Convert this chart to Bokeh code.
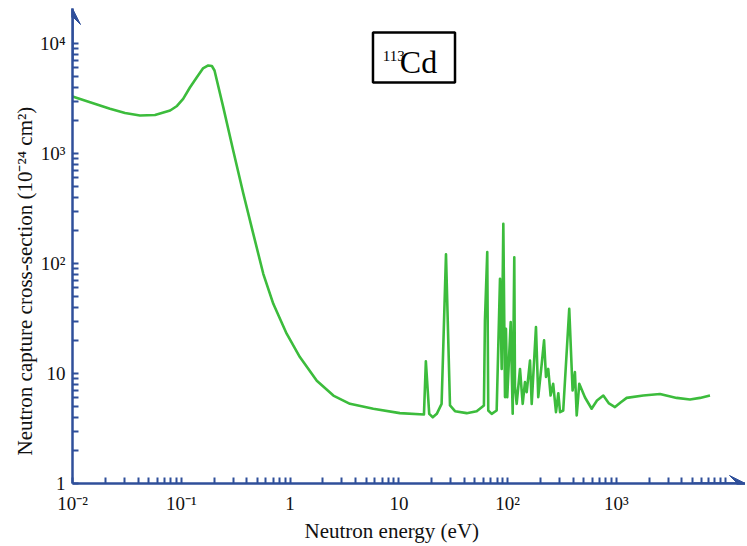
from bokeh.plotting import figure
from bokeh.models import (FixedTicker, Arrow, VeeHead, BoxAnnotation, Label,
                          ColumnDataSource, Range1d, Title)
from bokeh.embed import file_html
from bokeh.resources import INLINE

# ---------------- data ----------------
energy_ev = [0.0100, 0.0145, 0.0221, 0.0304, 0.0417, 0.0573, 0.0790, 0.0913, 0.104, 0.120,
             0.139, 0.158, 0.177, 0.191, 0.202, 0.243, 0.300, 0.372, 0.459, 0.567,
             0.701, 0.930, 1.23, 1.76, 2.50, 3.55, 5.82, 10.2, 17.0, 17.7,
             19.0, 20.5, 22.3, 24.7, 27.1, 29.5, 32.8, 42.0, 51.9, 60.5,
             61.8, 64.9, 66.3, 71.3, 79.2, 85.0, 88.1, 91.2, 94.5, 96.4,
             99.1, 106.6, 111.2, 115.0, 116.7, 121.0, 129.8, 137.4, 144.2, 149.6,
             160.4, 166.3, 182.0, 191.0, 205.5, 216.0, 225.0, 236.0, 248.0, 262.0,
             278.0, 292.0, 303.0, 324.0, 368.0, 395.0, 415.0, 431.0, 455.0, 514.0,
             591.0, 662.0, 757.0, 853.0, 969.0, 1090.0, 1241.0, 1763.0, 2512.0, 3573.0,
             4740.0, 5860.0, 7240.0]
cross_section = [3300, 2925, 2550, 2335, 2215, 2240, 2460, 2704, 3140, 3980,
                 4940, 5930, 6310, 6240, 5680, 2640, 1065, 430, 186, 80.6,
                 43.0, 23.0, 14.1, 8.6, 6.3, 5.3, 4.78, 4.36, 4.24, 12.9,
                 4.30, 4.00, 4.30, 5.30, 121, 5.12, 4.54, 4.36, 4.54, 5.12,
                 30.3, 127, 4.61, 4.30, 4.61, 72.6, 11.0, 230, 6.1, 25.5,
                 6.1, 29.3, 4.3, 114, 7.5, 5.3, 11.0, 5.3, 8.34, 6.76,
                 13.1, 5.3, 26.4, 6.1, 12.2, 20.0, 9.3, 11.0, 6.3, 8.06,
                 4.45, 6.62, 4.45, 4.61, 38.7, 7.0, 10.3, 4.15, 8.06, 6.05,
                 4.78, 5.68, 6.3, 5.34, 4.95, 5.45, 6.0, 6.3, 6.5, 6.0,
                 5.8, 6.0, 6.3]

x_major = [0.01, 0.1, 1, 10, 100, 1000, 10000]
x_tick_labels = ["10\u207b\u00b2", "10\u207b\u00b9", "1", "10", "10\u00b2", "10\u00b3", ""]
y_major = [1, 10, 100, 1000, 10000]
y_tick_labels = ["1", "10", "10\u00b2", "10\u00b3", "10\u2074"]

x_label = "Neutron energy (eV)"
y_label = "Neutron capture cross-section (10\u207b\u00b2\u2074 cm\u00b2)"
isotope_mass = "113"
isotope_symbol = "Cd"

# ---------------- style / layout ----------------
BLUE = "#2f4f9a"
GREEN = "#3cbc3c"
FONT = "Liberation Serif"

x_lo, x_hi = 1e-2, 10 ** 4.186
y_lo, y_hi = 1, 10 ** 4.318

p = figure(x_axis_type="log", y_axis_type="log",
           x_range=Range1d(x_lo, x_hi), y_range=Range1d(y_lo, y_hi),
           width=745, height=544, output_backend="svg", toolbar_location=None,
           min_border_left=72, min_border_right=0, min_border_top=8,
           min_border_bottom=61)
p.outline_line_color = None
p.grid.visible = False
p.background_fill_color = "white"
p.border_fill_color = "white"

src = ColumnDataSource(dict(x=energy_ev, y=cross_section))
p.line("x", "y", source=src, line_color=GREEN, line_width=2.6, line_join="round")


def minor_list(majors, upto):
    out = []
    for m in majors:
        for k in range(2, 10):
            if m * k <= upto:
                out.append(m * k)
    return out


p.xaxis.ticker = FixedTicker(ticks=x_major, minor_ticks=minor_list(x_major[:-1], x_major[-1]))
p.yaxis.ticker = FixedTicker(ticks=y_major, minor_ticks=minor_list(y_major[:-1], y_major[-1]))
p.xaxis.major_label_overrides = dict(zip(x_major, x_tick_labels))
p.yaxis.major_label_overrides = dict(zip(y_major, y_tick_labels))

for ax in (p.xaxis[0], p.yaxis[0]):
    ax.axis_line_color = BLUE
    ax.axis_line_width = 2.5
    ax.major_tick_line_color = BLUE
    ax.minor_tick_line_color = BLUE
    ax.major_tick_line_width = 2
    ax.minor_tick_line_width = 2
    ax.major_tick_in = 6
    ax.major_tick_out = 0
    ax.minor_tick_in = 6
    ax.minor_tick_out = 0
    ax.major_label_text_font = FONT
    ax.major_label_text_font_size = "19px"
    ax.major_label_text_color = "#111111"

p.xaxis.major_label_standoff = 9
p.yaxis.major_label_standoff = 7

# axis titles, placed along the axes like the reference
p.add_layout(Title(text=y_label, align="left", offset=28, standoff=0,
                   text_font=FONT, text_font_size="21px", text_font_style="normal",
                   text_color="#111111"), "left")
p.add_layout(Title(text=x_label, align="left", offset=232, standoff=0,
                   text_font=FONT, text_font_size="21px", text_font_style="normal",
                   text_color="#111111"), "below")

# axis arrows
p.add_layout(Arrow(end=VeeHead(size=16, fill_color=BLUE, line_color=BLUE, line_width=1),
                   x_start=x_lo, y_start=y_hi / 3, x_end=x_lo, y_end=y_hi,
                   line_color=BLUE, line_width=2.5))
p.add_layout(Arrow(end=VeeHead(size=16, fill_color=BLUE, line_color=BLUE, line_width=1),
                   x_start=x_hi / 3, y_start=y_lo, x_end=x_hi, y_end=y_lo,
                   line_color=BLUE, line_width=2.5))

# isotope box
p.add_layout(BoxAnnotation(left=5.78, right=32.8, bottom=4420, top=12590,
                           fill_color="white", fill_alpha=1.0,
                           line_color="black", line_alpha=1.0, line_width=2.5))
p.add_layout(Label(x=7.1, y=7700, text=isotope_mass, text_font=FONT,
                   text_font_size="15px", text_color="#000000",
                   text_align="left", text_baseline="alphabetic"))
p.add_layout(Label(x=10.2, y=6720, text=isotope_symbol, text_font=FONT,
                   text_font_size="32px", text_color="#000000",
                   text_align="left", text_baseline="alphabetic"))

open("out.html", "w").write(file_html(p, INLINE))
